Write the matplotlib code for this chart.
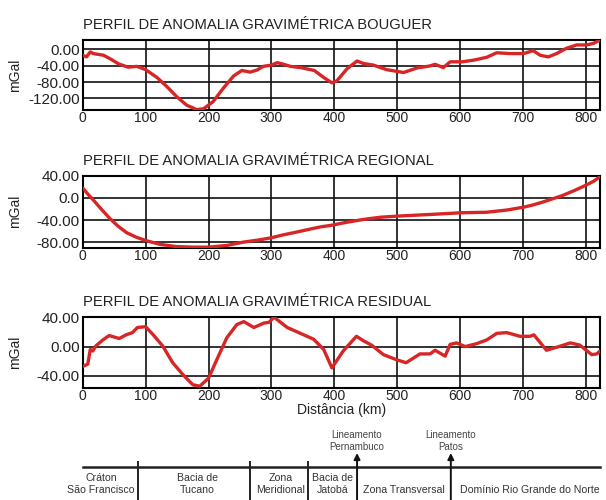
import matplotlib.pyplot as plt

plt.rcParams['font.family'] = ['Liberation Sans', 'DejaVu Sans']

# distance (km) / anomaly (mGal) read from the profiles
bouguer_km = [0, 3, 6, 12, 17, 33, 43, 57, 72, 86, 100, 118, 133, 149, 165, 181,
              192, 207, 224, 240, 253, 266, 277, 287, 300, 309, 317, 330, 346, 368,
              383, 396, 404, 420, 436, 446, 462, 483, 510, 531, 552, 560, 573, 584,
              603, 621, 642, 658, 679, 700, 716, 727, 740, 753, 769, 785, 801, 812, 822]
bouguer_mgal = [-15, -17, -19, -7, -11, -15, -23, -36, -44, -42, -50, -69, -90, -115, -136, -147,
                -145, -128, -94, -65, -52, -56, -51, -42, -39, -33, -36, -42, -45, -52,
                -69, -82, -77, -48, -29, -35, -39, -50, -57, -46, -41, -37, -45, -31,
                -31, -27, -20, -9, -11, -11, -4, -15, -19, -11, 2, 10, 10, 14, 22]

regional_km = [0, 8, 17, 30, 43, 56, 70, 85, 100, 123, 149, 176, 200, 229, 255, 280,
               300, 318, 335, 351, 367, 380, 393, 420, 446, 473, 500, 552, 600, 642,
               674, 700, 715, 730, 746, 762, 781, 800, 812, 822]
regional_mgal = [18, 7, -4, -21, -37, -51, -63, -71, -77, -84, -88, -89, -89, -86, -80, -76,
                 -72, -67, -63, -59, -55, -52, -50, -44, -39, -35, -33, -30, -27, -26,
                 -22, -17, -13, -8, -2, 4, 13, 23, 30, 38]

residual_km = [0, 8, 12, 16, 21, 32, 42, 58, 69, 79, 87, 100, 111, 127, 143, 159, 175, 186,
               200, 213, 229, 245, 256, 272, 288, 296, 304, 325, 346, 367, 383, 396, 414,
               435, 446, 459, 478, 499, 514, 536, 552, 560, 576, 584, 594, 608, 626, 642,
               658, 674, 695, 711, 717, 737, 753, 775, 790, 809, 817, 822]
residual_mgal = [-27, -24, -4, -6, 1, 9, 15, 11, 16, 19, 26, 27, 17, 1, -22, -38, -52, -54,
                 -43, -18, 12, 30, 34, 26, 32, 33, 40, 26, 18, 10, -4, -29, -6,
                 14, 8, 2, -11, -18, -22, -10, -10, -5, -13, 3, 5, 0, 4, 9,
                 18, 19, 14, 14, 16, -5, -1, 5, 2, -11, -10, -6]

panels = [
    ('PERFIL DE ANOMALIA GRAVIMÉTRICA BOUGUER', bouguer_km, bouguer_mgal,
     [0, -40, -80, -120], ['0.00', '-40.00', '-80.00', '-120.00'], (-148, 22)),
    ('PERFIL DE ANOMALIA GRAVIMÉTRICA REGIONAL', regional_km, regional_mgal,
     [40, 0, -40, -80], ['40.00', '0.0', '-40.00', '-80.00'], (-90, 40)),
    ('PERFIL DE ANOMALIA GRAVIMÉTRICA RESIDUAL', residual_km, residual_mgal,
     [40, 0, -40], ['40.00', '0.00', '-40.00'], (-56, 40)),
]

# geological domains along the profile
boundaries_km = [88, 266, 358]
lineaments_km = [436, 585]
lineament_names = ['Lineamento\nPernambuco', 'Lineamento\nPatos']
domain_names = ['Cráton\nSão Francisco', 'Bacia de\nTucano', 'Zona\nMeridional',
                'Bacia de\nJatobá', 'Zona Transversal', 'Domínio Rio Grande do Norte']
domain_x = [29, 182, 314, 397, 511, 600]

xmax = 822
red = '#d82525'

fig = plt.figure(figsize=(6.06, 5.0), dpi=100)
rects = [(0.1365, 0.78, 0.8535, 0.14),
         (0.1365, 0.5046, 0.8535, 0.144),
         (0.1365, 0.2246, 0.8535, 0.141)]

for (title, km, mgal, yt, ytl, ylim), rect in zip(panels, rects):
    ax = fig.add_axes(rect)
    ax.plot(km, mgal, color=red, lw=2.4, solid_capstyle='round',
            solid_joinstyle='round', zorder=3)
    ax.set_xlim(0, xmax)
    ax.set_ylim(*ylim)
    ax.set_xticks(range(0, 900, 100))
    ax.set_yticks(yt)
    ax.set_yticklabels(ytl)
    ax.grid(True, color='#111111', lw=1.2)
    for s in ax.spines.values():
        s.set_linewidth(1.5)
    ax.tick_params(length=0, pad=2, labelsize=10, colors='#222222')
    ax.tick_params(axis='y', labelsize=11)
    ax.tick_params(axis='x', pad=1)
    ax.set_ylabel('mGal', fontsize=10, color='#222222')
    ax.yaxis.set_label_coords(-0.118, 0.5)
    ax.set_title(title, loc='left', fontsize=10.6, pad=8, color='#222222')

ax.set_xlabel('Distância (km)', fontsize=10, labelpad=0, color='#222222')

# domain strip below the profiles
bx = fig.add_axes((0.1365, 0.0, 0.8535, 0.15))
bx.set_xlim(0, xmax)
bx.set_ylim(75, 0)
bx.axis('off')
bx.plot([0, xmax], [42, 42], color='#222222', lw=1.8, clip_on=False)
for b in boundaries_km:
    bx.plot([b, b], [37, 75], color='#222222', lw=1.4)
for b, name in zip(lineaments_km, lineament_names):
    bx.annotate('', xy=(b, 28), xytext=(b, 75),
                arrowprops=dict(arrowstyle='-|>', color='#111111', lw=1.4,
                                mutation_scale=9, shrinkA=0, shrinkB=0))
    bx.text(b, 16, name, ha='center', va='center', fontsize=7,
            color='#444444', linespacing=1.2)
for x, name in zip(domain_x, domain_names):
    two_lines = '\n' in name
    ha = 'center' if x < 600 else 'left'
    bx.text(x, 59 if two_lines else 65, name, ha=ha, va='center',
            fontsize=7.6, color='#333333', linespacing=1.2, clip_on=False)

fig.savefig('out.png', dpi=100)
